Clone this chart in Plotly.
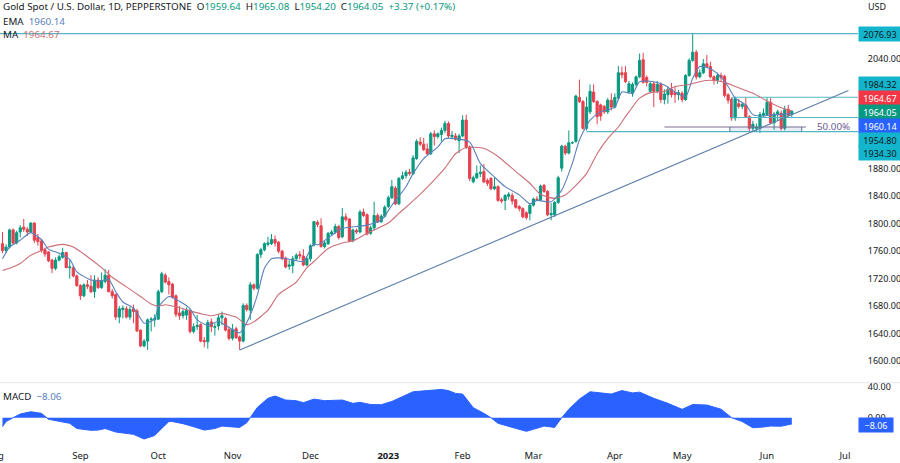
import plotly.graph_objects as go

FONT = "Noto Sans"
DARK = "#131722"
GREEN = "#089981"
RED = "#e5404e"
BLUE = "#5a80bb"
MARED = "#cc6f78"
CYAN = "#4fb8c4"
MACDBLUE = "#2962ff"
TREND = "#5f7fab"
FS = 9.8
AXFS = 9

opens = [1771,1761,1766,1791,1772,1788,1795,1792,1788,1801,1780,1775,1762,1759,1747,1735,1747,1751,1758,1736,
 1736,1724,1710,1695,1711,1709,1701,1718,1707,1716,1725,1701,1697,1664,1675,1676,1664,1676,1673,1645,
 1622,1629,1660,1660,1661,1701,1725,1716,1712,1695,1670,1666,1667,1673,1643,1650,1653,1630,1628,1657,
 1649,1651,1663,1662,1646,1633,1647,1635,1629,1681,1674,1711,1706,1755,1762,1770,1771,1777,1773,1760,
 1750,1738,1739,1749,1755,1753,1740,1749,1769,1802,1797,1767,1771,1785,1788,1796,1781,1810,1807,1775,
 1790,1788,1817,1813,1786,1794,1812,1803,1811,1825,1838,1852,1829,1866,1870,1875,1873,1895,1919,1916,
 1909,1902,1931,1927,1930,1936,1946,1927,1928,1921,1928,1951,1912,1861,1867,1873,1876,1863,1866,1851,
 1854,1835,1834,1840,1841,1835,1825,1822,1816,1815,1827,1836,1835,1856,1847,1813,1813,1831,1881,1913,
 1903,1918,1920,1984,1978,1939,1963,1992,1978,1973,1971,1963,1980,1970,1983,2020,2020,1992,1990,2003,
 2014,2039,2013,1993,2004,1993,2003,1981,1988,1996,1991,1988,1990,1981,2016,2038,2050,2014,2020,2033,
 2029,2014,2009,2016,2015,1988,1981,1954,1975,1971,1973,1956,1939,1939,1939,1958,1959,1977,1947,1960,
 1961,1939,1967,1959.64]
highs = [1788,1770,1793,1793,1790,1798,1807,1795,1802,1802,1785,1778,1765,1760,1749,1751,1755,1765,1759,1747,
 1739,1726,1712,1713,1718,1725,1725,1722,1729,1734,1733,1705,1698,1680,1681,1680,1679,1682,1676,1646,
 1632,1662,1664,1668,1704,1730,1728,1722,1714,1697,1680,1676,1678,1676,1655,1667,1655,1635,1660,1662,
 1655,1668,1672,1664,1650,1654,1650,1637,1684,1684,1715,1713,1757,1765,1773,1781,1785,1783,1775,1762,
 1752,1747,1753,1757,1760,1763,1752,1770,1804,1805,1808,1775,1788,1791,1800,1798,1823,1815,1808,1793,
 1793,1820,1822,1815,1797,1832,1815,1814,1827,1841,1864,1855,1868,1876,1878,1880,1900,1923,1926,1925,
 1917,1934,1936,1933,1940,1950,1949,1935,1932,1931,1958,1959,1914,1870,1885,1885,1887,1866,1868,1868,
 1856,1838,1843,1846,1845,1836,1827,1824,1818,1830,1838,1840,1857,1858,1849,1830,1833,1870,1915,1915,
 1936,1920,1988,2010,1980,1985,2003,2003,1980,1975,1973,1983,1990,1990,2030,2029,2030,2008,2006,2016,
 2048,2049,2016,2007,2007,2008,2006,1996,2000,2005,2000,1995,1993,2018,2041,2077,2053,2025,2040,2046,
 2036,2016,2020,2020,2017,1990,1984,1985,1982,1977,1984,1958,1950,1946,1963,1968,1984,1983,1963,1966,
 1965,1972,1973,1965.08]
lows = [1757,1757,1764,1770,1770,1780,1788,1782,1786,1772,1768,1758,1752,1744,1728,1732,1745,1749,1735,1720,
 1722,1708,1689,1693,1705,1699,1692,1705,1705,1713,1700,1691,1660,1655,1662,1662,1660,1655,1642,1620,
 1620,1616,1643,1650,1660,1699,1713,1697,1691,1664,1660,1662,1660,1640,1640,1645,1627,1620,1618,1642,
 1637,1645,1652,1643,1630,1630,1632,1616,1627,1672,1660,1703,1704,1750,1760,1767,1769,1767,1757,1747,
 1735,1733,1728,1746,1748,1738,1738,1745,1767,1795,1765,1764,1769,1782,1785,1777,1779,1803,1773,1773,
 1785,1786,1810,1783,1784,1790,1801,1801,1809,1823,1836,1827,1827,1864,1866,1870,1871,1893,1913,1906,
 1900,1900,1914,1924,1920,1932,1925,1923,1921,1903,1926,1909,1862,1859,1865,1868,1859,1855,1849,1849,
 1832,1830,1820,1835,1828,1822,1818,1808,1806,1805,1825,1833,1833,1845,1811,1805,1810,1829,1876,1900,
 1901,1916,1918,1976,1937,1936,1960,1976,1945,1950,1960,1960,1965,1968,1981,2012,2005,1990,1985,2000,
 2012,2004,2000,1990,1970,1990,1976,1974,1975,1984,1976,1980,1977,1979,2014,2036,2010,2012,2018,2027,
 2012,2003,2004,2008,1984,1975,1950,1950,1968,1967,1954,1935,1935,1934,1932,1955,1957,1945,1937,1950,
 1936,1936,1956,1954.20]
closes = [1761,1766,1791,1772,1787,1794,1792,1788,1801,1776,1774,1761,1756,1746,1735,1747,1752,1758,1736,1737,
 1724,1710,1695,1711,1709,1701,1718,1707,1717,1725,1701,1695,1664,1676,1677,1664,1675,1672,1644,1622,
 1629,1660,1661,1662,1701,1727,1715,1711,1693,1668,1666,1672,1674,1643,1650,1652,1629,1628,1656,1650,
 1650,1663,1666,1645,1633,1646,1634,1629,1681,1675,1711,1706,1755,1762,1771,1772,1777,1772,1760,1749,
 1737,1740,1749,1754,1753,1740,1749,1768,1803,1799,1767,1772,1786,1788,1796,1780,1810,1806,1775,1791,
 1788,1817,1812,1785,1794,1812,1803,1811,1824,1838,1854,1829,1866,1870,1875,1873,1896,1920,1916,1908,
 1902,1931,1927,1931,1936,1946,1928,1929,1923,1928,1951,1911,1866,1867,1873,1875,1861,1859,1851,1854,
 1834,1833,1841,1843,1833,1824,1822,1810,1809,1827,1836,1835,1855,1847,1813,1815,1831,1867,1913,1903,
 1918,1918,1986,1978,1939,1970,1993,1978,1956,1957,1963,1980,1970,1984,2020,2017,2007,2004,2003,2014,
 2038,2006,2006,2004,1993,2003,1981,1989,1996,1988,1988,1991,1981,2016,2038,2050,2014,2020,2033,2029,
 2014,2009,2016,2013,1987,1980,1954,1982,1971,1974,1956,1939,1945,1941,1959,1961,1977,1947,1960,1963,
 1939,1966,1958,1964.05]

ma_bars = [0,2,5,8,11,13,17,20,24,28,31,35,39,42,44,46,49,53,56,59,62,66,69,71,75,78,83,86,88,92,96,99,103,109,112,117,122,125,128,131,136,140,145,149,152,156,159,162,165,168,171,174,176,177,180,183,187,190,194,197,200,204,207,212,216,220,223]
ma_vals = [1732,1735,1742,1754,1761,1766,1770,1766,1752,1736,1722,1708,1694,1683,1680,1682,1679,1673,1669,1666,1669,1664,1653,1657,1674,1697,1715,1736,1745,1764,1772,1775,1786,1801,1815,1838,1864,1881,1902,1911,1910,1898,1876,1859,1843,1837,1842,1856,1873,1902,1924,1941,1956,1963,1983,1991,1993,2000,2003,2007,2009,2006,2000,1990,1979,1969,1964.67]

ema_bars = [0,2,5,8,11,13,16,19,21,25,28,30,32,34,37,39,40,43,44,47,50,53,55,58,61,63,67,68,70,72,74,76,79,82,85,88,89,93,96,100,103,107,110,114,116,119,123,125,128,132,135,139,142,146,149,151,155,158,161,163,166,169,173,175,178,180,184,187,190,193,195,197,200,203,205,207,210,212,215,218,223]
ema_vals = [1749,1766,1776,1787,1777,1763,1757,1748,1730,1718,1717,1719,1701,1686,1677,1662,1655,1661,1678,1694,1687,1676,1660,1652,1658,1652,1641,1647,1667,1696,1735,1749,1750,1747,1745,1771,1769,1783,1793,1796,1798,1805,1827,1854,1873,1895,1912,1924,1924,1919,1888,1868,1854,1842,1829,1834,1832,1849,1888,1922,1951,1963,1970,1992,1990,2007,2007,2002,1992,1985,2012,2029,2026,2014,2000,1983,1973,1959,1957,1959,1960.14]

macd_bars = [0,1,3,5,8,11,13,16,19,21,25,27,29,32,35,37,40,43,45,47,48,51,54,57,60,62,64,67,69,70,72,75,77,80,83,85,88,91,93,96,99,101,104,107,110,113,116,120,124,126,128,130,131,133,136,138,140,144,148,150,153,156,158,160,163,166,172,175,178,180,184,188,192,195,199,203,206,209,212,215,217,220,223]
macd_vals = [-11.6,-5,0,4.7,7.7,5.6,-2,-4.3,-7.3,-14,-16.3,-16,-14,-18.5,-20.6,-21.5,-27.5,-23,-13.8,-5,-5,-7.7,-11.6,-16,-14,-10.8,-11.6,-12.5,-6.5,0,13.3,25,28,22.8,22,19.4,24,22,22,22.8,18.5,19.8,17,16.8,21,27,33.5,35,36.5,35,31.4,30.5,25,13,5.6,0,-7.3,-12.5,-17.6,-15,-10.8,-12.5,0,10.8,24,33.5,30.5,35,32,33,25,18.5,10.8,17,16.3,11,0,-5,-13,-12,-10.8,-11,-8.06]

trend_bars = [67, 239]
trend_vals = [1616, 1994]

# value, first bar of each horizontal level
level_vals = [2076.93, 1984.32, 1954.80, 1934.30]
level_from = [-1, 206.3, 205.5, 165]
fib_bars = [187, 227]
fib_vals = [1941, 1941]
fib_box_bars = [205.5, 225.8]
fib_box_vals = [1934.3, 1941]

price_ticks = [2040,1880,1840,1800,1760,1720,1680,1640,1600]
macd_ticks = [40, 0]
month_bars = [22,44,65,87,109,130,150,173,192,216,238]
month_labels = ["Sep","Oct","Nov","Dec","<b>2023</b>","Feb","Mar","Apr","May","Jun","Jul"]

# price tags on the right: text, fill, text colour
tag_text = ["2076.93","1984.32","1964.67","1964.05","1960.14","1954.80","1934.30"]
tag_fill = ["#12b5cb","#12b5cb","#f23645","#089981","#2962ff","#12b5cb","#12b5cb"]
tag_ink = [DARK,DARK,"#ffffff","#ffffff","#ffffff",DARK,DARK]
tag_px = [34,84,98,112,126,139.5,153]

W, H = 900, 463
BOTTOM = 23
PLOT_H = H - BOTTOM
PLOT_W = 858
x_rng = [-0.706, 241.7]
bars = list(range(len(closes)))

def py(px):
    return 1 - px / PLOT_H

def px_x(px):
    return px / PLOT_W

fig = go.Figure()
for v, s in zip(level_vals, level_from):
    fig.add_trace(go.Scatter(x=[s, x_rng[1]], y=[v, v], mode="lines", yaxis="y", xaxis="x",
                             line=dict(color=CYAN, width=1.2), hoverinfo="skip", showlegend=False))
fig.add_trace(go.Scatter(x=fib_box_bars + fib_box_bars[::-1],
                         y=[fib_box_vals[0]] * 2 + [fib_box_vals[1]] * 2,
                         fill="toself", fillcolor="rgba(90,130,200,0.14)", mode="none",
                         hoverinfo="skip", showlegend=False))
fig.add_trace(go.Scatter(x=fib_bars, y=fib_vals, mode="lines", line=dict(color="#7d6f93", width=1.1),
                         hoverinfo="skip", showlegend=False))
for b in fib_box_bars:
    fig.add_trace(go.Scatter(x=[b, b], y=fib_box_vals, mode="lines", line=dict(color="#5a6f8c", width=1),
                             hoverinfo="skip", showlegend=False))
fig.add_trace(go.Scatter(x=[level_from[1], level_from[1]], y=[level_vals[2], level_vals[1]], mode="lines",
                         line=dict(color=CYAN, width=1), hoverinfo="skip", showlegend=False))
fig.add_trace(go.Candlestick(x=bars, open=opens, high=highs, low=lows, close=closes,
                             increasing=dict(line=dict(color=GREEN, width=1), fillcolor=GREEN),
                             decreasing=dict(line=dict(color=RED, width=1), fillcolor=RED),
                             whiskerwidth=0, showlegend=False))
fig.add_trace(go.Scatter(x=ma_bars, y=ma_vals, mode="lines", line=dict(color=MARED, width=1.1, shape="spline", smoothing=0.6),
                         hoverinfo="skip", showlegend=False))
fig.add_trace(go.Scatter(x=ema_bars, y=ema_vals, mode="lines", line=dict(color=BLUE, width=1.1, shape="spline", smoothing=0.6),
                         hoverinfo="skip", showlegend=False))
fig.add_trace(go.Scatter(x=trend_bars, y=trend_vals, mode="lines", line=dict(color=TREND, width=1.1),
                         hoverinfo="skip", showlegend=False))
fig.add_trace(go.Scatter(x=macd_bars, y=macd_vals, yaxis="y2", mode="lines", fill="tozeroy",
                         fillcolor=MACDBLUE, line=dict(color=MACDBLUE, width=1),
                         hoverinfo="skip", showlegend=False))

anns = []
def label(text, x, y, size=FS, color=DARK, anchor="left"):
    anns.append(dict(text=text, xref="paper", yref="paper", x=px_x(x), y=py(y), xanchor=anchor, yanchor="middle",
                     showarrow=False, font=dict(family=FONT, size=size, color=color), align="left"))

g = lambda t: f'<span style="color:{GREEN}">{t}</span>'
label("Gold Spot / U.S. Dollar, 1D, PEPPERSTONE  O" + g("1959.64") + "  H" + g("1965.08") + "  L" + g("1954.20")
      + "  C" + g("1964.05") + "  " + g("+3.37 (+0.17%)"), 1, 7)
label(f'EMA  <span style="color:{BLUE}">1960.14</span>', 1, 21)
label(f'MA  <span style="color:{MARED}">1964.67</span>', 1, 34)
label(f'MACD  <span style="color:{BLUE}">\u22128.06</span>', 1, 396)
label("USD", 866, 7, size=AXFS)
label("50.00%", 815, 127, color="#6a5a94")
label("Aug", -5, 455, size=9.5, anchor="center")

for t, f, c, p in zip(tag_text, tag_fill, tag_ink, tag_px):
    anns.append(dict(text=t, xref="paper", yref="paper", x=1, y=py(p), xanchor="left", yanchor="middle",
                     showarrow=False, width=42, height=14, bgcolor=f, borderpad=0, align="center",
                     font=dict(family=FONT, size=AXFS, color=c)))
anns.append(dict(text="\u22128.06", xref="paper", yref="paper", x=1, y=py(425), xanchor="left", yanchor="middle",
                 showarrow=False, width=34, height=14, bgcolor=MACDBLUE, borderpad=0, align="center",
                 font=dict(family=FONT, size=AXFS, color="#ffffff")))

axfont = dict(family=FONT, size=AXFS, color=DARK)
fig.update_layout(
    width=W, height=H, margin=dict(l=0, r=W - PLOT_W, t=0, b=BOTTOM, pad=0, autoexpand=False),
    paper_bgcolor="#ffffff", plot_bgcolor="#ffffff", showlegend=False, annotations=anns, boxgap=0.12,
    font=dict(family=FONT, size=9.8, color=DARK),
    xaxis=dict(range=x_rng, anchor="y2", domain=[0, 1], tickmode="array", tickvals=month_bars, ticktext=month_labels,
               showgrid=False, zeroline=False, showline=False, ticks="outside", ticklen=7, tickcolor="#ffffff",
               rangeslider=dict(visible=False), tickangle=0, automargin=False,
               tickfont=dict(family=FONT, size=9.5, color=DARK)),
    yaxis=dict(range=[1569.4, 2126], domain=[1 - 382 / PLOT_H, 1], side="right", anchor="x", tickmode="array",
               tickvals=price_ticks, ticktext=[f"{v:.2f}" for v in price_ticks], showgrid=False, zeroline=False,
               ticks="outside", ticklen=7, tickcolor="#ffffff", automargin=False, tickfont=axfont),
    yaxis2=dict(range=[-28.8, 44.8], domain=[0, 1 - 383 / PLOT_H], side="right", anchor="x", tickmode="array",
                tickvals=macd_ticks, ticktext=[f"{v:.2f}" for v in macd_ticks], showgrid=False, zeroline=False,
                ticks="outside", ticklen=7, tickcolor="#ffffff", automargin=False, tickfont=axfont),
    shapes=[dict(type="line", xref="paper", yref="paper", x0=0, x1=W / PLOT_W, y0=py(382.7), y1=py(382.7),
                 line=dict(color="#e6e7ea", width=1))],
)
fig.write_html("out.html", config={"displayModeBar": False},
               post_script=("var s=document.createElement('style');"
                            "s.textContent='html,body{margin:0;padding:0;width:900px;height:463px;overflow:hidden}"
                            "body>div{width:900px;height:463px;overflow:hidden;line-height:0}';"
                            "document.head.appendChild(s);"))
